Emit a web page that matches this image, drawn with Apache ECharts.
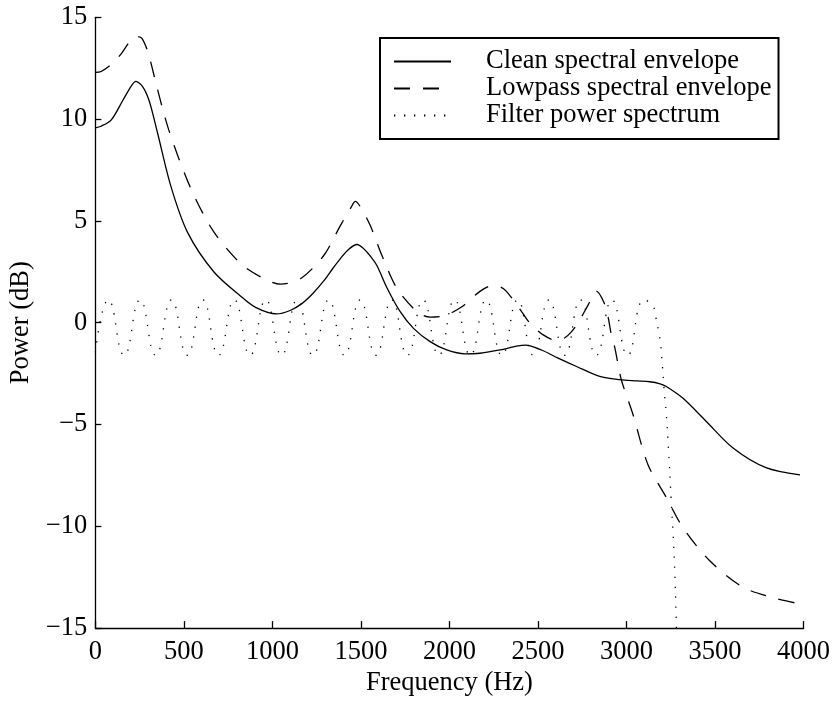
<!DOCTYPE html>
<html>
<head>
<meta charset="utf-8">
<script src="https://cdn.jsdelivr.net/npm/echarts@6/dist/echarts.min.js"></script>
<style>
  html, body { margin: 0; padding: 0; background: #fff; }
  #chart { width: 833px; height: 702px; }
</style>
</head>
<body>
<div id="chart"></div>
<script>
// Spectral envelopes of a speech frame and the lowpass filter response (dB vs Hz)
const FONT = '"Liberation Serif", "Times New Roman", Times, serif';

const seriesNames = ['Clean spectral envelope', 'Lowpass spectral envelope', 'Filter power spectrum'];

const xTickValues = [0, 500, 1000, 1500, 2000, 2500, 3000, 3500, 4000];
const yTickValues = [-15, -10, -5, 0, 5, 10, 15];

const cleanFreq = [0, 32, 89, 154, 201, 229, 267, 304, 351, 426, 520, 670, 821, 905, 1023, 1100, 1168, 1230, 1290, 1340,
  1384, 1430, 1478, 1520, 1560, 1591, 1647, 1722, 1797, 1891, 1985, 2088, 2173, 2286, 2380, 2430, 2520, 2614, 2718, 2849,
  2962, 3060, 3131, 3190, 3225, 3318, 3450, 3600, 3788, 3980];
const cleanPower = [9.57, 9.65, 9.95, 10.9, 11.6, 11.85, 11.6, 10.9, 9.33, 6.72, 4.45, 2.49, 1.3, 0.75, 0.43, 0.6, 0.95, 1.45, 2.05, 2.65,
  3.15, 3.6, 3.84, 3.6, 3.2, 2.8, 1.72, 0.54, -0.28, -0.93, -1.34, -1.53, -1.5, -1.34, -1.15, -1.1, -1.34, -1.74, -2.15, -2.64,
  -2.8, -2.86, -2.9, -3.0, -3.13, -3.7, -4.84, -6.14, -7.12, -7.47];

const lowpassFreq = [0, 33, 88, 149, 201, 235, 263, 299, 342, 389, 417, 473, 558, 670, 821, 934, 1046, 1159, 1290, 1384,
  1440, 1469, 1500, 1553, 1619, 1704, 1816, 1891, 1976, 2070, 2145, 2192, 2248, 2304, 2352, 2408, 2455, 2530, 2605, 2650,
  2690, 2736, 2783, 2830, 2871, 2896, 2913, 2935, 2971, 3037, 3121, 3225, 3318, 3469, 3656, 3844, 3975];
const lowpassPower = [12.29, 12.34, 12.67, 13.24, 13.89, 14.05, 13.97, 13.24, 11.77, 10.22, 9.41, 8.03, 6.23, 4.45, 2.9, 2.25, 1.89, 2.16, 3.3, 4.77,
  5.6, 5.96, 5.65, 4.77, 3.3, 1.68, 0.55, 0.27, 0.35, 0.78, 1.35, 1.65, 1.85, 1.68, 1.22, 0.54, -0.03, -0.6, -0.88, -0.75,
  -0.44, 0.13, 0.86, 1.55, 1.03, 0.29, -0.52, -1.26, -2.8, -4.51, -6.96, -8.58, -10.05, -11.68, -12.98, -13.55, -13.8];

// Passband ripple extremes, then the transition band of the filter
const filterFreq = [0, 74, 163, 252, 341, 430, 519, 607, 696, 785, 874, 963, 1052, 1140, 1229, 1318, 1407, 1496, 1585, 1674,
  1763, 1851, 1940, 2029, 2118, 2207, 2296, 2385, 2473, 2562, 2651, 2740, 2829, 2918, 3007, 3100, 3150, 3165, 3180, 3192,
  3202, 3212, 3225, 3238, 3252, 3264, 3273, 3280, 3287];
const filterPower = [-1.45, 1.12, -1.6, 1.12, -1.6, 1.12, -1.6, 1.12, -1.6, 1.12, -1.6, 1.12, -1.6, 1.12, -1.6, 1.12, -1.6, 1.12, -1.6, 1.12,
  -1.6, 1.12, -1.6, 1.12, -1.6, 1.12, -1.6, 1.12, -1.6, 1.12, -1.6, 1.12, -1.6, 1.12, -1.6, 1.12, 0.8, 0.3, -0.35, -1.0,
  -2.0, -3.2, -4.5, -6.3, -8.6, -10.5, -12.3, -14.3, -16.5];

const pairs = (xs, ys) => xs.map((x, i) => [x, ys[i]]);

const textBase = { fontFamily: FONT, fontSize: 26.5, color: '#000' };
const axisLineStyle = { color: '#000', width: 1.3 };

const chart = echarts.init(document.getElementById('chart'), null, { renderer: 'canvas' });

chart.setOption({
  backgroundColor: '#fff',
  animation: false,
  grid: { left: 94.3, right: 28.7, top: 17.3, bottom: 70.3, containLabel: false },
  xAxis: {
    type: 'value',
    min: xTickValues[0],
    max: xTickValues[xTickValues.length - 1],
    interval: xTickValues[1] - xTickValues[0],
    axisLine: { show: true, onZero: false, lineStyle: axisLineStyle },
    axisTick: { show: true, inside: true, length: 7, lineStyle: axisLineStyle },
    axisLabel: Object.assign({
      margin: 10,
      showMinLabel: true,
      showMaxLabel: true,
      formatter: v => String(v)
    }, textBase),
    splitLine: { show: false },
    name: 'Frequency (Hz)',
    nameLocation: 'middle',
    nameGap: 40,
    nameTextStyle: textBase
  },
  yAxis: {
    type: 'value',
    min: yTickValues[0],
    max: yTickValues[yTickValues.length - 1],
    interval: yTickValues[1] - yTickValues[0],
    axisLine: { show: true, onZero: false, lineStyle: axisLineStyle },
    axisTick: { show: true, inside: true, length: 6, lineStyle: axisLineStyle },
    axisLabel: Object.assign({
      margin: 8,
      formatter: v => String(v).replace('-', '\u2212')
    }, textBase),
    splitLine: { show: false },
    name: 'Power (dB)',
    nameLocation: 'middle',
    nameGap: 58,
    nameTextStyle: textBase
  },
  legend: {
    orient: 'vertical',
    left: 380,
    top: 38,
    padding: [10, 7, 10, 13],
    itemWidth: 57,
    itemHeight: 10,
    itemGap: 0,
    borderColor: '#000',
    borderWidth: 2,
    backgroundColor: '#fff',
    selectedMode: false,
    itemStyle: { opacity: 0 },
    textStyle: Object.assign({ lineHeight: 23.5, padding: [0, 0, 0, 30] }, textBase),
    data: seriesNames
  },
  series: [
    {
      name: seriesNames[0],
      type: 'line',
      data: pairs(cleanFreq, cleanPower),
      symbol: 'none',
      smooth: 0.3,
      clip: true,
      lineStyle: { color: '#000', width: 1.3, type: 'solid' },
      z: 3
    },
    {
      name: seriesNames[1],
      type: 'line',
      data: pairs(lowpassFreq, lowpassPower),
      symbol: 'none',
      smooth: 0.3,
      clip: true,
      lineStyle: { color: '#000', width: 1.3, type: [16, 13] },
      z: 3
    },
    {
      name: seriesNames[2],
      type: 'line',
      data: pairs(filterFreq, filterPower),
      symbol: 'none',
      smooth: 0.5,
      clip: true,
      lineStyle: { color: '#000', width: 1.3, type: [1.3, 8.7], cap: 'butt' },
      z: 2
    }
  ]
});
</script>
</body>
</html>
